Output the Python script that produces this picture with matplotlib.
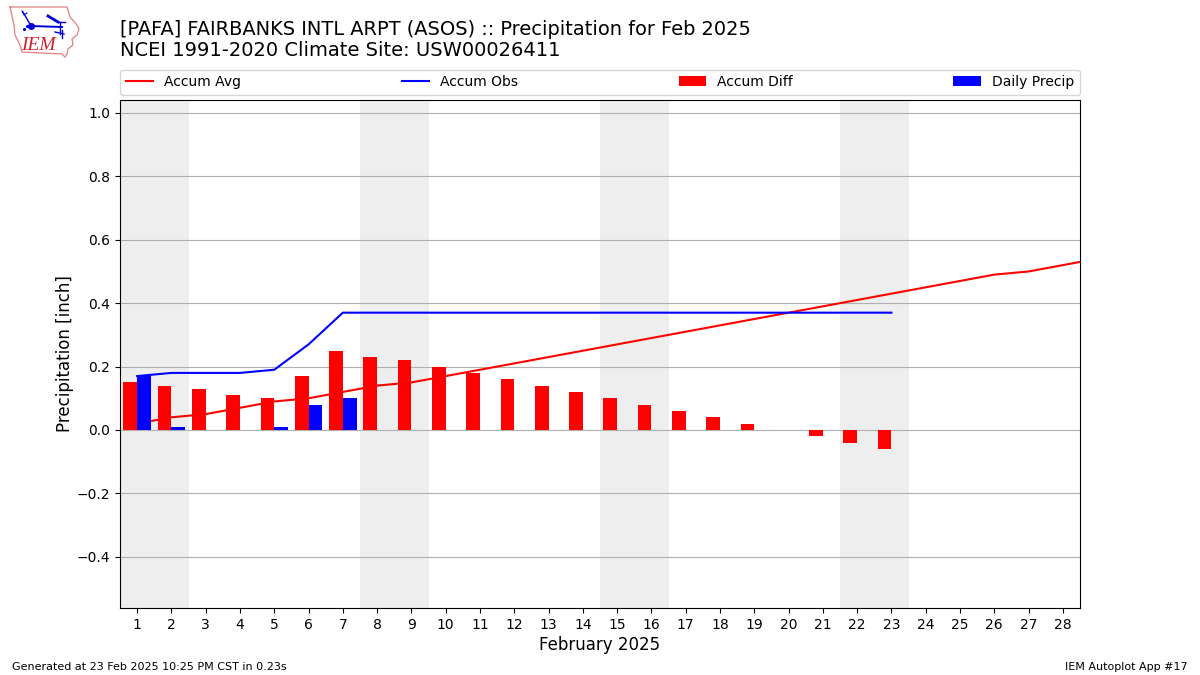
import matplotlib
matplotlib.use('Agg')
import matplotlib.pyplot as plt

days = list(range(1, 30))
accum_avg = [0.02, 0.04, 0.05, 0.07, 0.09, 0.10, 0.12, 0.14, 0.15, 0.17, 0.19, 0.21, 0.23, 0.25, 0.27,
             0.29, 0.31, 0.33, 0.35, 0.37, 0.39, 0.41, 0.43, 0.45, 0.47, 0.49, 0.50, 0.52, 0.54]
obs_days = list(range(1, 24))
accum_obs = [0.17, 0.18, 0.18, 0.18, 0.19, 0.27, 0.37, 0.37, 0.37, 0.37, 0.37, 0.37, 0.37, 0.37, 0.37,
             0.37, 0.37, 0.37, 0.37, 0.37, 0.37, 0.37, 0.37]
accum_diff = [0.15, 0.14, 0.13, 0.11, 0.10, 0.17, 0.25, 0.23, 0.22, 0.20, 0.18, 0.16, 0.14, 0.12, 0.10,
              0.08, 0.06, 0.04, 0.02, 0.0, -0.02, -0.04, -0.06]
daily_precip = [0.17, 0.01, 0, 0, 0.01, 0.08, 0.10, 0, 0, 0, 0, 0, 0, 0, 0, 0, 0, 0, 0, 0, 0, 0, 0]
weekends = [(0.5, 2.5), (7.5, 9.5), (14.5, 16.5), (21.5, 23.5)]

fig = plt.figure(figsize=(12, 6.75), dpi=100)
ax = fig.add_axes([0.1, 0.0993, 0.8, 0.7526])

for start, end in weekends:
    ax.axvspan(start, end, color='#eeeeee', lw=0, zorder=0)

ax.plot(days, accum_avg, color='r', label='Accum Avg', zorder=2)
ax.plot(obs_days, accum_obs, color='b', label='Accum Obs', zorder=2)
ax.bar(obs_days, accum_diff, width=-0.4, align='edge', color='r', label='Accum Diff', zorder=3)
ax.bar(obs_days, daily_precip, width=0.4, align='edge', color='b', label='Daily Precip', zorder=3)

ax.set_xlim(0.5, 28.5)
ax.set_ylim(-0.5615, 1.041)
ax.set_xticks(range(1, 29))
ax.set_yticks([-0.4, -0.2, 0, 0.2, 0.4, 0.6, 0.8, 1.0])
ax.grid(axis='y', color='#b0b0b0', zorder=1)
ax.set_axisbelow(True)
ax.tick_params(axis='both', labelsize=10)
ax.set_xlabel('February 2025', fontsize=12, labelpad=3)
ax.set_ylabel('Precipitation [inch]', fontsize=12, labelpad=2)

ax.legend(loc='lower left', bbox_to_anchor=(0, 1.0105, 1, 0.05), mode='expand', ncol=4,
          borderaxespad=0, fontsize=10)

fig.text(0.1, 0.9565, '[PAFA] FAIRBANKS INTL ARPT (ASOS) :: Precipitation for Feb 2025',
         fontsize=13.95, va='center')
fig.text(0.1, 0.9245, 'NCEI 1991-2020 Climate Site: USW00026411', fontsize=14, va='center')
fig.text(0.01, 0.0125, 'Generated at 23 Feb 2025 10:25 PM CST in 0.23s', fontsize=8, va='center')
fig.text(0.99, 0.0125, 'IEM Autoplot App #17', fontsize=8, va='center', ha='right')

# logo, coords are pixels of the picture
logo = fig.add_axes([0, 1 - 60 / 675, 80 / 1200, 60 / 675])
logo.set_xlim(0, 80)
logo.set_ylim(60, 0)
logo.axis('off')
outline_x = [10, 67, 70, 77, 79, 77, 72, 73, 68, 67, 65, 62, 22, 20, 15, 14, 10]
outline_y = [7, 7, 17, 25, 29, 35, 39, 45, 49, 54, 57, 54, 52, 45, 35, 25, 7]
logo.plot(outline_x, outline_y, color='#e08080', lw=0.9)
logo.plot([31, 62], [26, 27], color='#0000dd', lw=1.4)
logo.plot([60, 60], [22, 34], color='#0000dd', lw=1)
logo.plot([23, 31], [12, 26], color='#0000dd', lw=1)
logo.plot([22, 24, 27], [11, 15, 13], color='#0000dd', lw=0.8)
logo.plot([48, 58], [16, 22], color='#0000dd', lw=2)
logo.plot([58, 65], [22, 22], color='#0000dd', lw=1)
logo.plot([55, 64], [32, 34], color='#0000dd', lw=1)
logo.plot([62, 62], [30, 38], color='#0000dd', lw=1)
logo.plot([31], [26], 'o', color='#0000dd', ms=4)
logo.plot([24, 27], [29, 26], '.', color='#0000dd', ms=2.5)
logo.text(21, 45, 'IEM', color='#d02030', fontsize=14, family='Liberation Serif', style='italic', va='center')

plt.savefig('out.png', dpi=100)
